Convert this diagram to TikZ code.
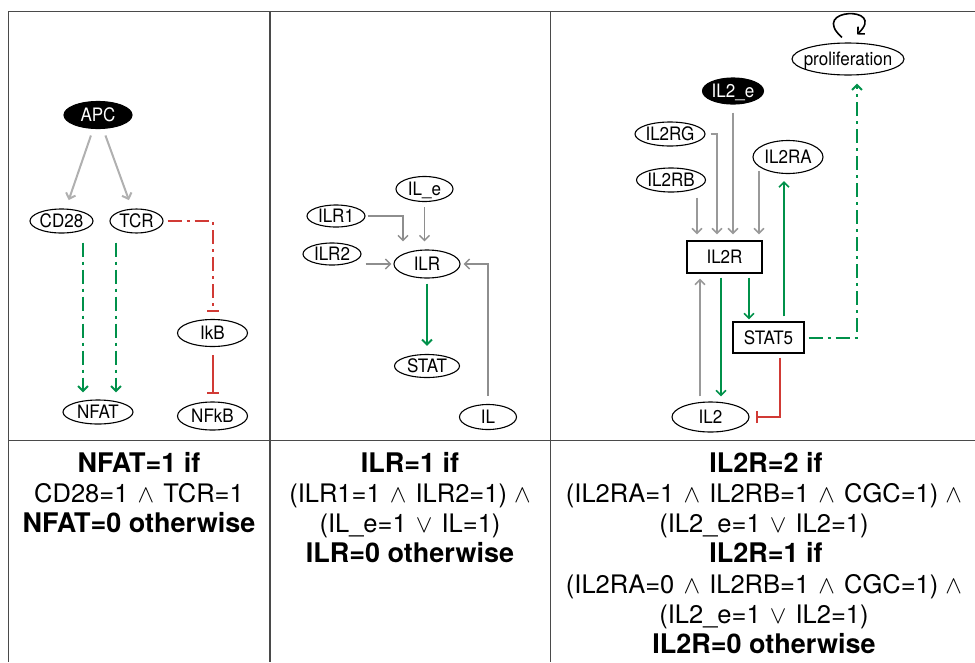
\documentclass[tikz,border=0pt]{standalone}
\usepackage{fontspec}
\setmainfont{TeX Gyre Heros}
\newfontfamily\nodefont[FakeStretch=0.92]{TeX Gyre Heros}
\usetikzlibrary{shapes.geometric,arrows.meta,calc}
\definecolor{gL}{HTML}{B0B0B0}
\definecolor{gM}{HTML}{8E8E8E}
\definecolor{gR}{HTML}{999999}
\definecolor{grn}{HTML}{00914A}
\definecolor{rd}{HTML}{D13A35}
\definecolor{frame}{HTML}{4A4A4A}
\newcommand{\wdg}{\hspace{0.36em}$\wedge$\hspace{0.36em}}
\newcommand{\vv}{\hspace{0.36em}$\vee$\hspace{0.36em}}
\begin{document}
\begin{tikzpicture}[x=1pt,y=-1pt,
  nf/.style={font=\nodefont\fontsize{18.5}{18.5}\selectfont},
  el/.style={ellipse, draw, line width=1.1pt, inner sep=0pt, text height=13pt, text depth=0pt, nf},
  bl/.style={el, fill=black, text=white},
  bx/.style={rectangle, draw, line width=1.1pt, inner sep=0pt, text height=13pt, text depth=0pt, nf},
  act/.style={-{Straight Barb[length=5pt,width=10pt]}, line width=1.6pt},
  inh/.style={-{Bar[width=12pt]}, line width=2pt},
  dd/.style={dash pattern=on 14pt off 5pt on 3pt off 5pt},
  tl/.style={font=\fontsize{25.5}{25.5}\selectfont, anchor=base, inner sep=0pt},
  tb/.style={font=\fontsize{27}{27}\selectfont\bfseries, anchor=base, inner sep=0pt},
  tab/.style={draw=frame, line width=1.5pt}
]
\useasboundingbox (0,0) rectangle (975,662);
% table
\draw[tab] (975,11.5) -- (8.5,11.5) -- (8.5,662);
\draw[tab] (270,11.5) -- (270,662);
\draw[tab] (550.5,11.5) -- (550.5,662);
\draw[tab] (8.5,440.5) -- (975,440.5);

% ---------- left panel
\node[bl, minimum width=68pt, minimum height=27pt] (APC) at (98,115) {\makebox[0pt]{APC}};
\node[el, minimum width=63pt, minimum height=24pt] (CD28) at (61.5,221) {\makebox[0pt]{CD28}};
\node[el, minimum width=53pt, minimum height=24pt] (TCR) at (136.5,221) {\makebox[0pt]{TCR}};
\node[el, minimum width=70pt, minimum height=27pt] (IkB) at (212.5,333) {\makebox[0pt]{IkB}};
\node[el, minimum width=70pt, minimum height=24pt] (NFAT) at (98,412) {\makebox[0pt]{NFAT}};
\node[el, minimum width=70pt, minimum height=28pt] (NFkB) at (212.5,416) {\makebox[0pt]{NFkB}};

\draw[act, gL, line width=2pt, shorten <=7pt, shorten >=9pt] (APC) -- (CD28);
\draw[act, gL, line width=2pt, shorten <=7pt, shorten >=9pt] (APC) -- (TCR);
\draw[act, grn, line width=2pt, dd, shorten <=9pt, shorten >=7pt] ([xshift=21.5pt]CD28.south) -- ([xshift=-15pt]NFAT.north);
\draw[act, grn, line width=2pt, dd, shorten <=9pt, shorten >=7pt] ([xshift=-20.5pt]TCR.south) -- ([xshift=18pt]NFAT.north);
\draw[inh, rd, dd, shorten <=4pt, shorten >=7pt] (TCR.east) -| (IkB.north);
\draw[inh, rd, shorten <=8pt, shorten >=7pt] (IkB.south) -- (NFkB.north);

% ---------- middle panel
\node[el, minimum width=57pt, minimum height=25pt] (ILe) at (424.5,189) {\makebox[0pt]{IL\_e}};
\node[el, minimum width=58pt, minimum height=22pt] (ILR1) at (336,216) {\makebox[0pt]{ILR1}};
\node[el, minimum width=58pt, minimum height=22pt] (ILR2) at (332,254) {\makebox[0pt]{ILR2}};
\node[el, minimum width=66pt, minimum height=28pt] (ILR) at (427,264) {\makebox[0pt]{ILR}};
\node[el, minimum width=65pt, minimum height=23pt] (STAT) at (427,366) {\makebox[0pt]{STAT}};
\node[el, minimum width=57pt, minimum height=25pt] (IL) at (488,417) {\makebox[0pt]{IL}};

\draw[act, gM, line width=1.4pt, shorten <=2pt, shorten >=8pt] (ILR1.east) -| ([xshift=-24pt]ILR.north);
\draw[act, gM, line width=1.4pt, shorten <=5pt, shorten >=8pt] (ILe.south) -- (ILe.south |- ILR.north);
\draw[act, gM, line width=1.4pt, shorten <=4pt, shorten >=2pt] (ILR2.east |- ILR.west) -- (ILR.west);
\draw[act, gM, line width=1.4pt, shorten <=8pt, shorten >=3pt] (IL.north) |- (ILR.east);
\draw[act, grn, line width=2pt, shorten <=5pt, shorten >=8pt] (ILR.south) -- (STAT.north);

% ---------- right panel
\node[el, minimum width=112pt, minimum height=32pt] (prolif) at (848,59) {\makebox[0pt]{proliferation}};
\node[bl, minimum width=61pt, minimum height=26pt] (IL2e) at (733,91) {\makebox[0pt]{IL2\_e}};
\node[el, minimum width=70pt, minimum height=24pt] (IL2RG) at (670,134) {\makebox[0pt]{IL2RG}};
\node[el, minimum width=69pt, minimum height=24pt] (IL2RB) at (671,180) {\makebox[0pt]{IL2RB}};
\node[el, minimum width=70pt, minimum height=33pt] (IL2RA) at (788,157) {\makebox[0pt]{IL2RA}};
\node[bx, minimum width=75pt, minimum height=32pt] (IL2R) at (724.5,257) {IL2R};
\node[bx, minimum width=71pt, minimum height=31pt] (STAT5) at (768.5,337.5) {STAT5};
\node[el, minimum width=77pt, minimum height=30pt] (IL2) at (710.5,417) {\makebox[0pt]{IL2}};

\draw[act, gR, shorten <=5pt, shorten >=6pt] ([xshift=26pt]IL2RB.south) -- ([xshift=-27.5pt]IL2R.north);
\draw[act, gR, shorten <=5pt, shorten >=6pt] (IL2RG.east) -| ([xshift=-7.5pt]IL2R.north);
\draw[act, gR, shorten <=8pt, shorten >=6pt] (IL2e.south) -- (IL2e.south |- IL2R.north);
\draw[act, gR, shorten <=-3pt, shorten >=6pt] ([xshift=-29pt]IL2RA.south) -- ([xshift=34.5pt]IL2R.north);
\draw[act, gR, shorten <=5pt, shorten >=5pt] ([xshift=-10.5pt]IL2.north) -- ([xshift=-24.5pt]IL2R.south);
\draw[act, grn, shorten <=4pt, shorten >=5pt] ([xshift=-3.5pt]IL2R.south) -- ([xshift=10.5pt]IL2.north);
\draw[act, grn, shorten <=4pt, shorten >=2pt] ([xshift=24.5pt]IL2R.south) -- ([xshift=-19.5pt]STAT5.north);
\draw[act, grn, shorten <=5pt, shorten >=7pt] ([xshift=15.5pt]STAT5.north) -- ([xshift=-4pt]IL2RA.south);
\draw[act, grn, line width=2pt, dd, shorten <=4pt, shorten >=8pt] (STAT5.east) -| ([xshift=9pt]prolif.south);
\draw[inh, rd, shorten <=4pt, shorten >=6pt] ([xshift=11.5pt]STAT5.south) |- (IL2.east);
\draw[act, black, line width=1.6pt] ([xshift=-6pt,yshift=5pt]prolif.north) .. controls +(-34,-30) and +(31,-29) .. ([xshift=9pt,yshift=8pt]prolif.north);

% ---------- bottom text
\node[tb] (t11) at (139,472) {NFAT=1 if};
\node[tl] (t12) at (139,502.3) {CD28=1\wdg{}TCR=1};
\node[tb] (t13) at (139,532.6) {NFAT=0 otherwise};

\node[tb] (t21) at (410,472) {ILR=1 if};
\node[tl] (t22) at (410,502.3) {(ILR1=1\wdg{}ILR2=1) $\wedge$};
\node[tl] (t23) at (410,532.6) {(IL\_e=1\vv{}IL=1)};
\node[tb] (t24) at (410,562.9) {ILR=0 otherwise};

\node[tb] (t31) at (766,472) {IL2R=2 if};
\node[tl] (t32) at (764,502.3) {(IL2RA=1\wdg{}IL2RB=1\wdg{}CGC=1) $\wedge$};
\node[tl] (t33) at (764,532.6) {(IL2\_e=1\vv{}IL2=1)};
\node[tb] (t34) at (766,562.9) {IL2R=1 if};
\node[tl] (t35) at (764,593.2) {(IL2RA=0\wdg{}IL2RB=1\wdg{}CGC=1) $\wedge$};
\node[tl] (t36) at (764,623.5) {(IL2\_e=1\vv{}IL2=1)};
\node[tb] (t37) at (764,653.8) {IL2R=0 otherwise};
\end{tikzpicture}
\end{document}
